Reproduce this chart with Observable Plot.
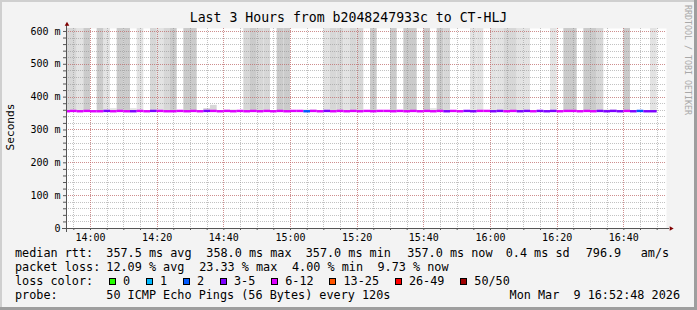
<!DOCTYPE html>
<html><head><meta charset="utf-8">
<script src="https://cdn.jsdelivr.net/npm/d3@7"></script>
<script src="https://cdn.jsdelivr.net/npm/@observablehq/plot@0.6"></script>
<style>
html,body{margin:0;padding:0;background:#f3f3f3;}
#frame{position:relative;width:697px;height:310px;background:#f3f3f3;overflow:hidden;font-family:"DejaVu Sans Mono",monospace;color:#000;}
.abs{position:absolute;}
.txt{position:absolute;white-space:pre;font-size:11.8px;line-height:14px;}
</style></head><body>
<div id="frame"></div>
<script>
// ---- data ----
const title = "Last 3 Hours from b2048247933c to CT-HLJ";
const yLabel = "Seconds";
const watermark = "RRDTOOL / TOBI OETIKER";
const rangeStart = new Date(Date.UTC(2026, 2, 9, 13, 52, 48));
const rangeEnd = new Date(Date.UTC(2026, 2, 9, 16, 52, 48));
const firstSlotEnd = new Date(Date.UTC(2026, 2, 9, 13, 54, 0));
const lastSlotEnd = new Date(Date.UTC(2026, 2, 9, 16, 50, 0));
const stepMinutes = 2;

// smoke shade per 2-minute slot: 0 none, 1 light, 2 medium, 3 dark
const smokeShade = [2,2,1,3,0,3,1,1,3,3, 1,1,0,2,1,2,3,0,3,3, 0,2,2,0,1,1,0,2,3,2,
  2,0,3,3,0,0,1,1,0,1, 2,2,1,2,2,0,3,0,0,3, 0,3,3,0,3,1,3,2,0,0,
  0,1,1,0,1,1,2,2,1,1, 0,0,0,1,0,3,3,0,3,3, 2,1,1,0,3,0,0,0,1];
// smoke maximum (ms); values above the chart top run off the graph
const smokeMax = [700,700,700,700,null,700,700,365,700,700, 365,700,null,700,700,700,700,null,700,700,
  null,365,375,null,361,361,null,700,700,700, 700,null,700,700,null,null,361,361,null,700,
  700,700,700,700,700,null,700,null,null,700, null,700,700,null,700,365,700,700,null,null,
  null,700,700,null,700,700,700,700,700,700, null,null,null,700,null,700,700,null,700,700,
  700,361,361,null,700,null,null,null,700];
// median rtt (ms)
const medianRtt = [357,358,357,358,357,357,358,357,358,357, 357,358,357,358,358,357,357,358,357,358,
  357,358,358,357,358,357,358,357,358,357, 358,357,358,357,358,358,357,358,357,358,
  357,358,357,358,357,358,357,358,358,357, 358,357,358,357,358,357,358,357,358,357,
  358,357,358,358,357,358,357,358,357,358, 357,358,357,358,357,358,358,357,358,357,
  358,357,358,357,358,357,358,357,357];
// lost pings out of 50 per slot
const lossCount = [7,7,7,7,7,7,4,7,7,7, 4,7,7,4,7,7,7,7,7,7, 7,4,7,7,7,7,7,7,7,7,
  7,7,7,7,7,7,2,7,7,4, 7,7,7,7,7,7,7,7,7,7, 11,7,7,7,7,7,7,4,7,7,
  4,4,7,7,4,4,7,7,4,4, 7,4,4,4,7,7,7,7,7,7, 4,4,4,4,7,4,2,4,5];

const shadeColors = ["none", "#e3e3e3", "#d7d7d7", "#cbcbcb"];
const lossThresholds = [1, 2, 3, 6, 13, 26, 50];
const lossLabels = ["0", "1", "2", "3-5", "6-12", "13-25", "26-49", "50/50"];
const lossColors = ["#26ff00", "#00b8ff", "#0059ff", "#7e00ff", "#dd00ff", "#ff5500", "#ff0000", "#a00000"];

const yMajorTicks = [0, 0.1, 0.2, 0.3, 0.4, 0.5, 0.6];
const yTop = 0.609;

const rttStats = [["median rtt:", 16], ["357.5 ms avg", 107.3], ["358.0 ms max", 207.3], ["357.0 ms min", 306.7],
  ["357.0 ms now", 408.3], ["0.4 ms sd", 506.7], ["796.9", 586.7], ["am/s", 641.7]];
const lossStats = [["packet loss:", 16], ["12.09 % avg", 107.3], ["23.33 % max", 200.2], ["4.00 % min", 293], ["9.73 % now", 378.5]];
const probeText = [["probe:", 16], ["50 ICMP Echo Pings (56 Bytes) every 120s", 107.3]];
const dateText = "Mon Mar  9 16:52:48 2026";

// ---- build ----
const slotEnds = d3.utcMinute.every(stepMinutes).range(firstSlotEnd, new Date(+lastSlotEnd + 1000));
const slots = slotEnds.map((end, i) => ({
  start: new Date(+end - stepMinutes * 60000), end,
  shade: smokeShade[i], top: smokeMax[i] == null ? null : smokeMax[i] / 1000,
  median: medianRtt[i] / 1000, loss: lossCount[i]
}));
const yMinorTicks = d3.ticks(0, 0.6, 30);
const smokeBase = 0.356;

const gridMinor = {stroke: "rgb(143,143,143)", strokeOpacity: 0.55, strokeDasharray: "1,1", shapeRendering: "crispEdges"};
const gridMajor = {stroke: "rgb(222,79,79)", strokeOpacity: 0.45, strokeDasharray: "1,1", shapeRendering: "crispEdges"};
const axisColor = "#555";

const smokeMarks = [1, 2, 3].map(s => Plot.rect(slots.filter(d => d.shade === s && d.top != null), {
  x1: "start", x2: "end", y1: () => smokeBase, y2: d => Math.min(d.top, yTop), fill: shadeColors[s], clip: true
}));

const chart = Plot.plot({
  width: 697, height: 250,
  marginLeft: 66, marginRight: 31, marginTop: 28, marginBottom: 22,
  style: {background: "transparent", fontFamily: "DejaVu Sans Mono, monospace", fontSize: "10px", color: "#000", overflow: "visible"},
  x: {type: "utc", domain: [rangeStart, rangeEnd]},
  y: {domain: [0, yTop]},
  color: {type: "threshold", domain: lossThresholds, range: lossColors},
  marks: [
    Plot.frame({fill: "#fff", stroke: "none"}),
    ...smokeMarks,
    Plot.gridY({ticks: yMinorTicks, ...gridMinor}),
    Plot.gridX({ticks: d3.utcMinute.every(5), ...gridMinor}),
    Plot.gridY({ticks: yMajorTicks, ...gridMajor}),
    Plot.gridX({ticks: d3.utcMinute.every(20), ...gridMajor}),
    Plot.ruleY(slots, {x1: "start", x2: "end", y: "median", stroke: "loss", strokeWidth: 2.4, clip: true}),
    Plot.axisY({ticks: yMinorTicks, tickSize: 3, tickFormat: () => "", stroke: axisColor, label: null}),
    Plot.axisY({ticks: yMajorTicks, tickSize: 0, tickPadding: 6, fontSize: 10, label: null,
      tickFormat: d => d === 0 ? "0" : Math.round(d * 1000) + " m"}),
    Plot.axisX({ticks: d3.utcMinute.every(5), tickSize: 2, tickFormat: () => "", stroke: axisColor, label: null}),
    Plot.axisX({ticks: d3.utcMinute.every(20), tickSize: 0, tickPadding: 5, fontSize: 10, label: null,
      tickFormat: d3.utcFormat("%H:%M")}),
    Plot.ruleY([0], {stroke: axisColor, insetLeft: -4, insetRight: -3}),
    Plot.ruleX([rangeStart], {stroke: axisColor, insetTop: -3, insetBottom: -4}),
    Plot.dot([0], {frameAnchor: "top-left", symbol: "triangle2", r: 2.2, fill: "#800000", stroke: "none", dx: 0.5, dy: -4}),
    Plot.dot([0], {frameAnchor: "bottom-right", symbol: "triangle2", r: 2.2, fill: "#800000", stroke: "none", rotate: 90, dx: 4.5})
  ]
});

const frame = document.getElementById("frame");
frame.appendChild(chart);
chart.style.position = "absolute"; chart.style.left = "0px"; chart.style.top = "0px";

function box(l, t, w, h, bg) {
  const d = document.createElement("div");
  d.className = "abs";
  Object.assign(d.style, {left: l + "px", top: t + "px", width: w + "px", height: h + "px", background: bg});
  frame.appendChild(d); return d;
}
function text(str, left, top, cls = "txt", extra = {}) {
  const d = document.createElement("div");
  d.className = cls; d.textContent = str;
  Object.assign(d.style, {left: left + "px", top: top + "px"}, extra);
  frame.appendChild(d); return d;
}
// 3D border
box(0, 0, 697, 2, "#cfcfcf");
box(0, 0, 2, 310, "#cfcfcf");
box(0, 307, 697, 3, "#9e9e9e");
box(694, 0, 3, 310, "#9e9e9e");

// title
text(title, 0, 10, "abs", {width: "697px", textAlign: "center", fontSize: "13.2px", lineHeight: "16px", whiteSpace: "pre"});
// y label
text(yLabel, 11, 126.5, "abs", {fontSize: "11.2px", lineHeight: "1", whiteSpace: "pre", transform: "translate(-50%,-50%) rotate(-90deg)"});
// watermark
text(watermark, 688, 60, "abs", {fontSize: "8.3px", lineHeight: "1", whiteSpace: "pre", color: "#a8a8a8", transform: "translate(-50%,-50%) rotate(90deg)"});

// legend
const rowTop = [246.4, 260.4, 274.4, 288.4];
rttStats.forEach(([s, x]) => text(s, x - 1, rowTop[0]));
lossStats.forEach(([s, x]) => text(s, x - 1, rowTop[1]));
text("loss color:", 15, rowTop[2]);
let bx = 108.7;
lossLabels.forEach((lab, i) => {
  const b = box(Math.round(bx), 278, 5, 5, lossColors[i]);
  b.style.border = "1px solid #000";
  text(lab, bx + 15.3 - 1, rowTop[2]);
  bx += 15.3 + 7.1 * lab.length + 14.6;
});
probeText.forEach(([s, x]) => text(s, x - 1, rowTop[3]));
text(dateText, 0, rowTop[3], "txt", {left: "auto", right: "17px"});
</script>
</body></html>
